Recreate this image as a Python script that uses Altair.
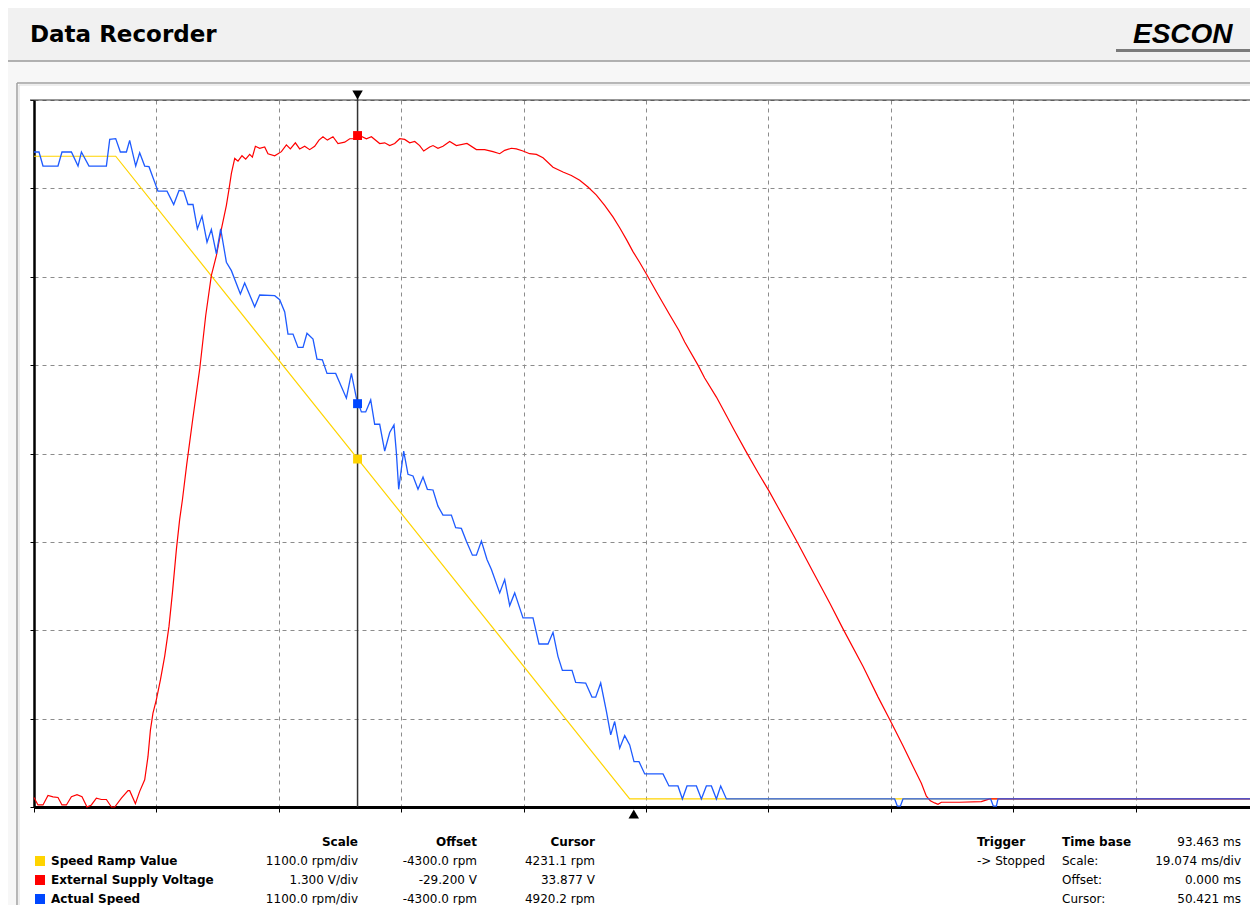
import altair as alt
import pandas as pd

# ---------------- instrument settings (from the legend) ----------------
TIME_PER_DIV = 19.074          # ms/div
N_YDIV = 8
SPEED_SCALE, SPEED_OFFSET = 1100.0, -4300.0   # rpm/div, rpm
VOLT_SCALE, VOLT_OFFSET = 1.300, -29.200      # V/div, V
CURSOR_T = 50.421              # ms
TRIGGER_T = 93.463             # ms

RAMP = [(0.0, 8000), (12.73, 8000), (92.83, 0), (190.74, 0)]

SPEED = [
    (0.0, 8053), (0.78, 8053), (1.40, 7878), (3.74, 7878), (4.36, 8053), (5.83, 8053),
    (6.86, 7878), (7.39, 8053), (8.57, 7878), (11.28, 7878), (11.80, 8210), (12.73, 8219),
    (13.46, 8053), (14.40, 8053), (14.91, 8198), (15.85, 7878), (16.47, 8044), (17.25, 7878),
    (17.92, 7870), (18.45, 7754), (19.32, 7566), (20.73, 7566), (21.77, 7399), (22.60, 7574),
    (23.33, 7566), (24.00, 7399), (24.78, 7399), (25.46, 7096), (26.18, 7255), (26.96, 6930),
    (27.64, 7088), (28.42, 6785), (29.09, 7096), (29.98, 6681), (30.76, 6576), (32.16, 6286),
    (32.83, 6423), (34.39, 6127), (35.17, 6273), (37.51, 6264), (38.29, 6215), (39.07, 6061),
    (39.58, 5787), (40.36, 5787), (41.14, 5621), (41.92, 5621), (42.54, 5796), (43.48, 5724),
    (44.10, 5475), (44.94, 5467), (45.66, 5297), (47.01, 5297), (48.68, 4989), (49.46, 5297),
    (50.24, 4989), (51.02, 4818), (51.69, 4818), (52.47, 4967), (53.09, 4664), (53.87, 4664),
    (54.65, 4331), (55.43, 4561), (56.10, 4656), (56.47, 4311), (56.83, 3854), (57.61, 4331),
    (58.28, 4041), (59.06, 4020), (59.84, 3854), (60.62, 4007), (61.30, 3854), (62.18, 3846),
    (62.95, 3645), (63.73, 3533), (65.04, 3533), (65.71, 3376), (66.60, 3367), (67.38, 3209),
    (68.32, 3034), (68.94, 3034), (69.72, 3211), (70.59, 2981), (71.28, 2856), (72.57, 2565),
    (73.35, 2731), (74.13, 2407), (74.91, 2565), (76.20, 2253), (77.76, 2253), (78.69, 1929),
    (80.10, 1929), (80.88, 2074), (81.65, 1775), (82.34, 1600), (83.84, 1600), (84.41, 1450),
    (85.97, 1443), (86.95, 1268), (87.53, 1268), (88.31, 1443), (89.20, 1089), (89.87, 798),
    (90.49, 964), (91.27, 632), (92.05, 789), (92.83, 673), (93.50, 465), (94.28, 465),
    (95.17, 312), (98.02, 312), (98.95, 162), (100.35, 162), (101.04, 0), (101.76, 162),
    (103.22, 162), (104.00, 0), (104.78, 162), (105.56, 162), (106.34, 0), (107.01, 162),
    (107.90, 0), (134.12, 0), (134.54, -90), (135.01, -90), (135.42, 0), (149.08, 0),
    (149.50, -90), (149.97, -90), (150.22, 0), (190.74, 0),
]

VOLT = [
    (0.0, 24.14), (0.62, 24.03), (1.40, 24.03), (2.18, 24.17), (2.96, 24.15), (3.74, 24.14),
    (4.36, 24.03), (5.05, 24.03), (5.83, 24.15), (6.70, 24.18), (7.48, 24.15), (8.26, 24.00),
    (8.94, 24.03), (9.72, 24.13), (10.50, 24.11), (11.28, 24.11), (12.06, 24.00), (12.58, 24.00),
    (13.62, 24.13), (14.65, 24.24), (14.91, 24.24), (15.80, 24.05), (16.47, 24.23), (17.25, 24.40),
    (17.76, 24.74), (18.14, 25.13), (18.54, 25.38), (19.07, 25.58), (19.70, 25.87), (20.37, 26.22),
    (21.04, 26.66), (21.57, 27.15), (22.19, 27.79), (22.70, 28.23), (23.13, 28.52), (23.80, 29.04),
    (24.73, 29.70), (25.82, 30.44), (26.76, 31.23), (27.64, 31.82), (28.42, 32.11), (29.20, 32.50),
    (29.98, 32.85), (30.39, 33.09), (30.76, 33.32), (31.28, 33.54), (31.79, 33.50), (32.41, 33.58),
    (32.99, 33.53), (33.61, 33.60), (34.03, 33.56), (34.50, 33.72), (35.17, 33.69), (35.95, 33.71),
    (36.46, 33.61), (37.51, 33.58), (38.55, 33.64), (39.33, 33.74), (39.95, 33.68), (40.73, 33.77),
    (41.40, 33.68), (42.18, 33.72), (42.96, 33.67), (43.74, 33.72), (44.41, 33.81), (45.03, 33.86),
    (45.72, 33.81), (46.59, 33.86), (47.37, 33.76), (48.42, 33.78), (49.20, 33.83), (49.97, 33.83),
    (50.49, 33.89), (51.80, 33.83), (52.58, 33.86), (53.87, 33.76), (54.65, 33.77), (55.43, 33.73),
    (56.21, 33.76), (56.99, 33.83), (57.77, 33.82), (58.55, 33.77), (59.33, 33.79), (60.10, 33.73),
    (60.73, 33.65), (61.66, 33.71), (62.18, 33.73), (62.95, 33.69), (63.73, 33.72), (64.78, 33.79),
    (65.82, 33.73), (67.47, 33.76), (68.94, 33.67), (70.23, 33.67), (71.53, 33.64), (72.57, 33.61),
    (73.35, 33.66), (74.39, 33.69), (75.17, 33.68), (76.20, 33.65), (77.24, 33.61), (78.29, 33.60),
    (79.32, 33.55), (80.88, 33.41), (82.43, 33.34), (83.74, 33.29), (85.04, 33.22), (86.33, 33.12),
    (87.64, 33.00), (88.93, 32.85), (90.22, 32.68), (91.27, 32.52), (92.31, 32.35), (93.34, 32.17),
    (94.39, 32.01), (95.43, 31.84), (96.99, 31.58), (99.06, 31.24), (100.51, 31.01), (101.40, 30.84),
    (103.47, 30.50), (104.51, 30.31), (106.34, 30.03), (107.37, 29.85), (109.19, 29.53), (111.01, 29.22),
    (112.82, 28.92), (114.53, 28.65), (115.94, 28.41), (118.80, 27.92), (121.39, 27.46), (124.00, 27.00),
    (126.07, 26.62), (129.18, 26.07), (131.52, 25.62), (133.45, 25.27), (135.42, 24.90), (136.97, 24.60),
    (138.28, 24.35), (139.06, 24.16), (139.68, 24.09), (140.35, 24.06), (140.87, 24.04), (141.40, 24.07),
    (144.26, 24.07), (147.63, 24.08), (148.92, 24.12), (190.74, 24.12),
]

# ---------------- legend table ----------------
SERIES = ["Speed Ramp Value", "External Supply Voltage", "Actual Speed"]
SERIES_COLORS = ["#FFD400", "#FF0000", "#1E5BFF"]
SQUARE_COLORS = ["#FFD400", "#FF0000", "#0047FF"]
SCALE_TXT = ["1100.0 rpm/div", "1.300 V/div", "1100.0 rpm/div"]
OFFSET_TXT = ["-4300.0 rpm", "-29.200 V", "-4300.0 rpm"]
CURSOR_TXT = ["4231.1 rpm", "33.877 V", "4920.2 rpm"]
CURSOR_VALS = [4231.1, 33.877, 4920.2]
TB_LABELS = ["Scale:", "Offset:", "Cursor:"]
TB_VALUES = ["93.463 ms", "19.074 ms/div", "0.000 ms", "50.421 ms"]

# ---------------- helpers ----------------
def speed_div(v):
    return (v + SPEED_OFFSET) / SPEED_SCALE + N_YDIV / 2

def volt_div(v):
    return (v + VOLT_OFFSET) / VOLT_SCALE + N_YDIV / 2

def frame(pairs, conv):
    return pd.DataFrame({"t": [p[0] for p in pairs], "div": [conv(p[1]) for p in pairs]})

ramp_df = frame(RAMP, speed_div)
speed_df = frame(SPEED, speed_div)
volt_df = frame(VOLT, volt_div)

PX_PER_DIV = 122.4
W, H = 1216, 707
FONT = "DejaVu Sans"
T_MAX = W / PX_PER_DIV * TIME_PER_DIV
N_GRID = int(W / PX_PER_DIV)

X = alt.X("t:Q", scale=alt.Scale(domain=[0, T_MAX], nice=False, zero=False),
          axis=alt.Axis(values=[TIME_PER_DIV * k for k in range(N_GRID + 1)], labels=False, title=None,
                        grid=True, gridDash=[4, 4], gridColor="#8c8c8c", gridWidth=1,
                        domainColor="black", domainWidth=3, tickColor="black", tickSize=5, tickWidth=1))
Y = alt.Y("div:Q", scale=alt.Scale(domain=[0, N_YDIV], nice=False, zero=False),
          axis=alt.Axis(values=list(range(N_YDIV + 1)), labels=False, title=None,
                        grid=True, gridDash=[4, 4], gridColor="#8c8c8c", gridWidth=1,
                        domainColor="black", domainWidth=2.5, tickColor="black", tickSize=4, tickWidth=1))

one = alt.Data(values=[{"a": 1}])

def rect(x, x2, y, y2, color):
    return alt.Chart(one).mark_rect(color=color).encode(
        x=alt.value(x), x2=alt.value(x2), y=alt.value(y), y2=alt.value(y2))

def hline(x, x2, y, color, w=1):
    return alt.Chart(one).mark_rule(color=color, strokeWidth=w).encode(
        x=alt.value(x), x2=alt.value(x2), y=alt.value(y))

def vline(x, y, y2, color, w=1):
    return alt.Chart(one).mark_rule(color=color, strokeWidth=w).encode(
        x=alt.value(x), y=alt.value(y), y2=alt.value(y2))

def txt(s, x, y, align="left", bold=False, size=12, font=FONT, italic=False, baseline="middle"):
    return alt.Chart(one).mark_text(
        text=s, align=align, baseline=baseline, font=font, fontSize=size,
        fontWeight="bold" if bold else "normal", fontStyle="italic" if italic else "normal",
        color="black").encode(x=alt.value(x), y=alt.value(y))

layers = []
# window chrome
layers.append(rect(-26, W, -92, -39, "#f1f1f1"))
layers.append(rect(-26, W, -39, -17, "#f7f7f7"))
layers.append(rect(-26, -17, -17, H + 100, "#f7f7f7"))
layers.append(hline(-26, W, -39, "#9a9a9a", 1.5))
layers.append(hline(-17, W, -17, "#a0a0a0", 1.5))
layers.append(hline(-15, W, -15, "#dcdcdc", 1))
layers.append(vline(-17, -17, H + 100, "#a0a0a0", 1.5))
layers.append(vline(-15, -15, H + 100, "#dcdcdc", 1))
layers.append(txt("Data Recorder", -4, -58, bold=True, size=23, baseline="alphabetic"))
layers.append(txt("ESCON", 1099, -57, bold=True, italic=True, size=28, font="Liberation Sans",
                  baseline="alphabetic"))
layers.append(rect(1082, W, -51, -48, "#7a7a7a"))

# plot traces
layers.append(alt.Chart(ramp_df).mark_line(color=SERIES_COLORS[0], strokeWidth=1.2).encode(x=X, y=Y))
layers.append(alt.Chart(volt_df).mark_line(color=SERIES_COLORS[1], strokeWidth=1.2).encode(x=X, y=Y))
layers.append(alt.Chart(speed_df).mark_line(color=SERIES_COLORS[2], strokeWidth=1.3).encode(x=X, y=Y))

# top frame line
layers.append(hline(-4, W, 0, "#333333", 1.2))

# cursor
cur_df = pd.DataFrame({"t": [CURSOR_T]})
layers.append(alt.Chart(cur_df).mark_rule(color="#333333", strokeWidth=1.5).encode(
    x=X, y=alt.value(-4), y2=alt.value(H)))
layers.append(alt.Chart(cur_df).mark_point(shape="triangle-down", filled=True, size=110,
                                           color="black", opacity=1).encode(x=X, y=alt.value(-5)))
sq_df = pd.DataFrame({
    "t": [CURSOR_T] * 3,
    "div": [speed_div(CURSOR_VALS[0]), volt_div(CURSOR_VALS[1]), speed_div(CURSOR_VALS[2])],
    "series": SERIES,
})
layers.append(alt.Chart(sq_df).mark_square(size=80, opacity=1).encode(
    x=X, y=Y, color=alt.Color("series:N", scale=alt.Scale(domain=SERIES, range=SQUARE_COLORS), legend=None)))
trig_df = pd.DataFrame({"t": [TRIGGER_T]})
layers.append(alt.Chart(trig_df).mark_point(shape="triangle-up", filled=True, size=110,
                                            color="black", opacity=1).encode(x=X, y=alt.value(H + 7)))

# legend table
ROW0 = H + 35
DY = 19
for lbl, x in [("Scale", 324), ("Offset", 443), ("Cursor", 561)]:
    layers.append(txt(lbl, x, ROW0, align="right", bold=True))
for i, name in enumerate(SERIES):
    y = ROW0 + DY * (i + 1)
    layers.append(rect(1, 11, y - 5, y + 5, SQUARE_COLORS[i]))
    layers.append(txt(name, 17, y, bold=True))
    layers.append(txt(SCALE_TXT[i], 324, y, align="right"))
    layers.append(txt(OFFSET_TXT[i], 443, y, align="right"))
    layers.append(txt(CURSOR_TXT[i], 561, y, align="right"))

layers.append(txt("Trigger", 943, ROW0, bold=True))
layers.append(txt("-> Stopped", 943, ROW0 + DY))
layers.append(txt("Time base", 1028, ROW0, bold=True))
for i, lbl in enumerate(TB_LABELS):
    layers.append(txt(lbl, 1028, ROW0 + DY * (i + 1)))
for i, v in enumerate(TB_VALUES):
    layers.append(txt(v, 1207, ROW0 + DY * i, align="right"))

chart = alt.layer(*layers).properties(
    width=W, height=H,
    padding={"left": 26, "top": 92, "right": 0, "bottom": 98},
    autosize=alt.AutoSizeParams(type="none"),
    background="white",
).configure_view(stroke=None)

chart.save("out.html", embed_options={"renderer": "svg", "actions": False})
